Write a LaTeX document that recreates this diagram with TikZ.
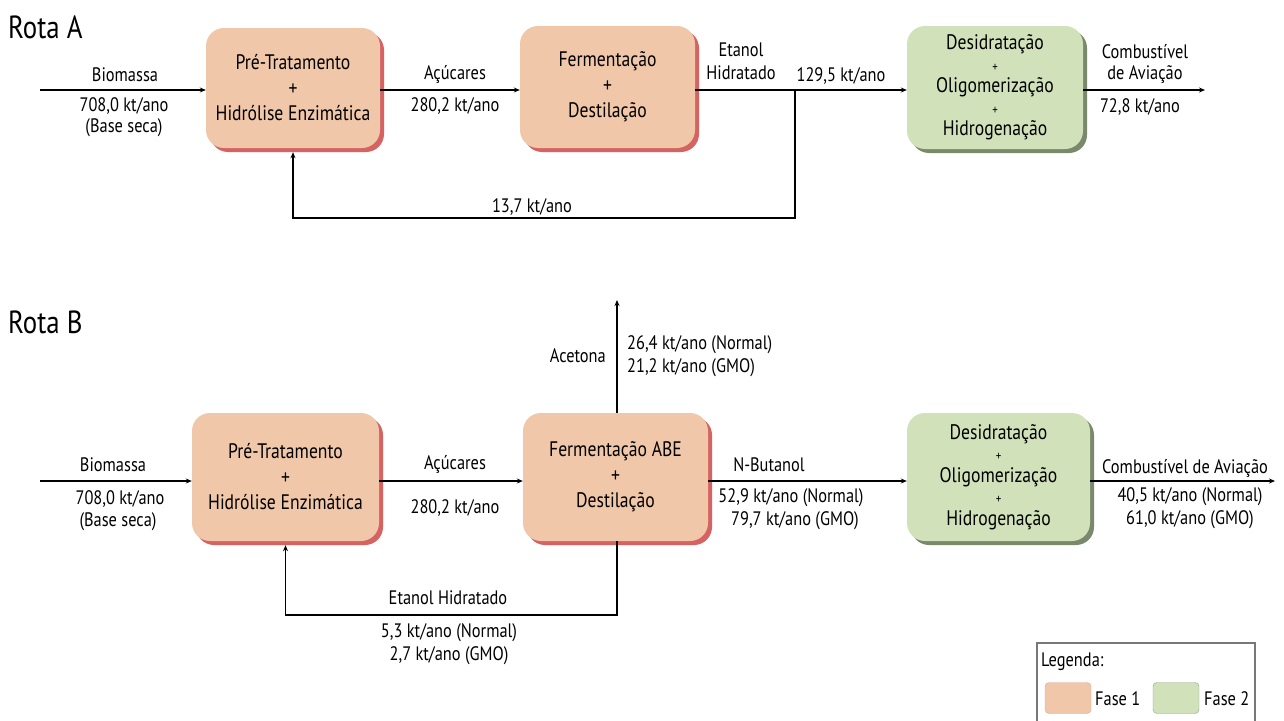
\documentclass[tikz,border=0pt]{standalone}
\usepackage{fontspec}
\setmainfont{PT Sans}[FakeStretch=0.84]
\usetikzlibrary{shadows,arrows.meta}

\definecolor{peach}{RGB}{240,199,168}
\definecolor{peachshadow}{RGB}{214,98,98}
\definecolor{sage}{RGB}{209,226,186}
\definecolor{sageshadow}{RGB}{122,136,108}
\definecolor{legendframe}{RGB}{120,120,120}

\newcommand\bxfont{\fontsize{21}{25.5}\selectfont}
\newcommand\bxfontc{\fontsize{21}{21.5}\selectfont}
\newcommand\lbfont{\fontsize{19.5}{22}\selectfont}
\newcommand\ttlfont{\fontsize{32}{36}\selectfont}
\newcommand\plussmall{{\fontsize{13}{13}\selectfont +}}

\begin{document}
\begin{tikzpicture}[x=1pt,y=-1pt,
  phase1/.style={rounded corners=18pt, fill=peach, inner sep=0pt, align=center, font=\bxfont,
    drop shadow={shadow xshift=4pt, shadow yshift=-4pt, fill=peachshadow, opacity=1}},
  phase2/.style={rounded corners=18pt, fill=sage, inner sep=0pt, align=center, font=\bxfontc,
    drop shadow={shadow xshift=4pt, shadow yshift=-4pt, fill=sageshadow, opacity=1}},
  lab/.style={font=\lbfont, inner sep=0pt},
  ttl/.style={font=\ttlfont, inner sep=0pt, anchor=west},
  flow/.style={line width=1.5pt, -{Stealth[length=6pt,width=5pt]}},
  recyc/.style={line width=1.3pt, -{Stealth[length=6pt,width=5pt]}, shorten >=4pt},
  swatch/.style={rounded corners=4pt, minimum width=46pt, minimum height=31pt, inner sep=0pt}]

\useasboundingbox (0,0) rectangle (1284,720);

% ---------------- Rota A ----------------
\node[ttl] (titA) at (8,27) {Rota A};

\node[phase1, minimum width=174pt, minimum height=120pt] (A1) at (293,88)
  {Pré-Tratamento\\+\\Hidrólise Enzimática};
\node[phase1, minimum width=175pt, minimum height=122pt] (A2) at (607.5,87)
  {Fermentação\\+\\Destilação};
\node[phase2, minimum width=176pt, minimum height=123pt] (A3) at (995,87.5)
  {Desidratação\\\plussmall\\Oligomerização\\\plussmall\\Hidrogenação};

\coordinate (inA) at (40,90);
\coordinate (brA) at (795,90);
\coordinate (rcA) at (795,218);
\coordinate (outA) at (1205,90);

\draw[flow] (inA) -- (inA -| A1.west);
\draw[flow] (A1.east |- inA) -- (A2.west |- inA);
\draw[flow] (A2.east |- inA) -- (A3.west |- inA);
\draw[flow] (A3.east |- outA) -- (outA);
\draw[recyc] (brA) -- (rcA) -| (A1.south);

\node[lab] (biomA) at (125,75) {Biomassa};
\node[lab] (qA1) at (124,106) {708,0 kt/ano};
\node[lab] (bsA) at (124,128) {(Base seca)};
\node[lab] (acA) at (455,75) {Açúcares};
\node[lab] (qA2) at (455,106) {280,2 kt/ano};
\node[lab] (etA) at (741,50) {Etanol};
\node[lab] (hiA) at (741,73) {Hidratado};
\node[lab] (qA3) at (841,76) {129,5 kt/ano};
\node[lab] (qA5) at (532,207) {13,7 kt/ano};
\node[lab] (cbA) at (1145,52) {Combustível};
\node[lab] (avA) at (1145,75) {de Aviação};
\node[lab] (qA4) at (1140,107) {72,8 kt/ano};

% ---------------- Rota B ----------------
\node[ttl] (titB) at (8,322) {Rota B};

\node[phase1, minimum width=187pt, minimum height=128pt] (B1) at (285.5,477)
  {Pré-Tratamento\\+\\Hidrólise Enzimática};
\node[phase1, minimum width=185pt, minimum height=128pt] (B2) at (615.5,477)
  {Fermentação ABE\\+\\Destilação};
\node[phase2, minimum width=183pt, minimum height=128pt] (B3) at (998.5,477)
  {Desidratação\\\plussmall\\Oligomerização\\\plussmall\\Hidrogenação};

\coordinate (inB) at (40,481);
\coordinate (outB) at (1275,481);
\coordinate (acTop) at (617,300);
\coordinate (rcB) at (617,615);

\draw[flow] (inB) -- (inB -| B1.west);
\draw[flow] (B1.east |- inB) -- (B2.west |- inB);
\draw[flow] (B2.east |- inB) -- (B3.west |- inB);
\draw[flow] (B3.east |- outB) -- (outB);
\draw[flow] (B2.north -| acTop) -- (acTop);
\draw[recyc] (B2.south -| rcB) -- (rcB) -| (B1.south);

\node[lab] (biomB) at (113,465) {Biomassa};
\node[lab] (qB1) at (120,499) {708,0 kt/ano};
\node[lab] (bsB) at (118,522) {(Base seca)};
\node[lab] (acB) at (455,465) {Açúcares};
\node[lab] (qB2) at (455,508) {280,2 kt/ano};
\node[lab, anchor=east] (actB) at (606,356) {Acetona};
\node[lab, anchor=west] (qB3a) at (627,345) {26,4 kt/ano (Normal)};
\node[lab, anchor=west] (qB3b) at (627,368) {21,2 kt/ano (GMO)};
\node[lab] (nbB) at (769,465) {N-Butanol};
\node[lab] (qB4a) at (791,498) {52,9 kt/ano (Normal)};
\node[lab] (qB4b) at (795,521) {79,7 kt/ano (GMO)};
\node[lab] (cbB) at (1185,469) {Combustível de Aviação};
\node[lab] (qB5a) at (1190,497) {40,5 kt/ano (Normal)};
\node[lab] (qB5b) at (1190,520) {61,0 kt/ano (GMO)};
\node[lab] (etB) at (448,598) {Etanol Hidratado};
\node[lab] (qB6a) at (449,633) {5,3 kt/ano (Normal)};
\node[lab] (qB6b) at (449,656) {2,7 kt/ano (GMO)};

% ---------------- Legenda ----------------
\draw[legendframe, line width=1.2pt] (1037,643) rectangle (1255,726);
\node[lab, anchor=west] (legT) at (1041,662) {Legenda:};
\node[swatch, fill=peach, draw=peachshadow!60] (sw1) at (1068,698) {};
\node[lab, anchor=west] (f1) at (1095,699) {Fase 1};
\node[swatch, fill=sage, draw=sageshadow!80] (sw2) at (1176,698) {};
\node[lab, anchor=west] (f2) at (1204,699) {Fase 2};
\end{tikzpicture}
\end{document}
